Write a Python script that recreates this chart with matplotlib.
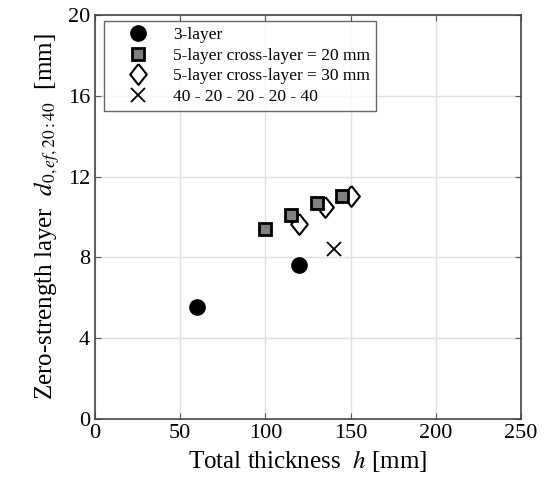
import matplotlib.pyplot as plt

plt.rcParams['font.family'] = ['Liberation Serif', 'DejaVu Serif']
plt.rcParams['mathtext.fontset'] = 'stix'

# --- data ---
h_3layer = [60, 120]
d_3layer = [5.55, 7.6]

h_5layer_20 = [100, 115, 130, 145]
d_5layer_20 = [9.42, 10.12, 10.68, 11.03]

h_5layer_30 = [120, 135, 150]
d_5layer_30 = [9.66, 10.48, 11.02]

h_special = [140]
d_special = [8.4]

xticks = [0, 50, 100, 150, 200, 250]
yticks = [0, 4, 8, 12, 16, 20]

# slightly narrow diamond
diamond = [(0, 1), (0.8, 0), (0, -1), (-0.8, 0), (0, 1)]

fig = plt.figure(figsize=(5.48, 4.96), dpi=100)
ax = fig.add_axes([0.1734, 0.1552, 0.7773, 0.8146])

ax.plot(h_3layer, d_3layer, 'o', color='black', markersize=11, linestyle='none',
        label='3-layer', zorder=4)
ax.plot(h_5layer_20, d_5layer_20, 's', markerfacecolor='#808080', markeredgecolor='black',
        markeredgewidth=2, markersize=8.5, linestyle='none',
        label='5-layer cross-layer = 20 mm', zorder=4)
ax.plot(h_5layer_30, d_5layer_30, marker=diamond, markerfacecolor='white',
        markeredgecolor='black', markeredgewidth=1.5, markersize=15, linestyle='none',
        label='5-layer cross-layer = 30 mm', zorder=3)
ax.plot(h_special, d_special, 'x', color='black', markeredgewidth=1.3, markersize=10,
        linestyle='none', label='40 - 20 - 20 - 20 - 40', zorder=3)

ax.set_xlim(0, 250)
ax.set_ylim(0, 20)
ax.set_xticks(xticks)
ax.set_yticks(yticks)
ax.grid(True, color='#e0e0e0', linewidth=1)
ax.set_axisbelow(True)
ax.tick_params(direction='in', labelsize=16, length=4, color='#555555', top=True, right=True,
               labeltop=False, labelright=False)
for sp in ax.spines.values():
    sp.set_color('#444444')
    sp.set_linewidth(1.2)

ax.set_xlabel(r'Total thickness  $h$ [mm]', fontsize=18)
ax.set_ylabel(r'Zero-strength layer  $d_{0,ef,20:40}$  [mm]', fontsize=18)

leg = ax.legend(loc='upper left', bbox_to_anchor=(0.022, 0.985), fontsize=12.5,
                frameon=True, fancybox=False, edgecolor='#444444',
                handlelength=3.2, borderpad=0.35, labelspacing=0.25, handletextpad=0.4,
                borderaxespad=0.0)
leg.get_frame().set_linewidth(1.0)

plt.savefig('out.png', dpi=100)
